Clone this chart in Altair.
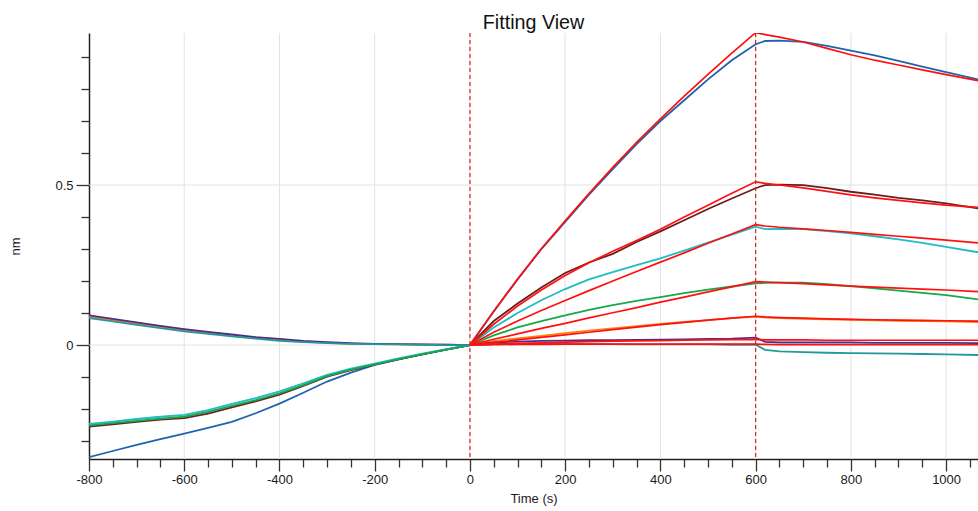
import altair as alt
import pandas as pd

# ---------------- data ----------------
SERIES = ["blue", "brown", "cyan", "green", "orange", "purple", "teal"]
COLORS = ["#1f63ad", "#6e1c1c", "#1fbcc4", "#17a84b", "#ff7f0e", "#4b2d8f", "#20999c"]

T_PRE = [-800, -750, -700, -650, -600, -550, -500, -450, -400, -350, -300, -250, -200, -150, -100, -50, 0]
T_ASSOC = [0, 50, 100, 150, 200, 250, 300, 350, 400, 450, 500, 550, 600]
T_DISS = [600, 620, 650, 700, 750, 800, 850, 900, 950, 1000, 1067]

PRE = {
    "blue":   [-0.350, -0.331, -0.312, -0.294, -0.277, -0.259, -0.240, -0.213, -0.183, -0.149, -0.114, -0.086, -0.062, -0.045, -0.029, -0.014, 0.0],
    "brown":  [-0.255, -0.248, -0.240, -0.233, -0.228, -0.214, -0.195, -0.176, -0.155, -0.128, -0.099, -0.078, -0.061, -0.045, -0.029, -0.014, 0.0],
    "cyan":   [-0.246, -0.239, -0.231, -0.224, -0.218, -0.203, -0.184, -0.166, -0.145, -0.120, -0.093, -0.074, -0.058, -0.042, -0.027, -0.013, 0.0],
    "green":  [-0.251, -0.244, -0.237, -0.230, -0.224, -0.209, -0.190, -0.172, -0.151, -0.125, -0.097, -0.077, -0.060, -0.044, -0.028, -0.014, 0.0],
    "orange": [0.089, 0.078, 0.067, 0.057, 0.047, 0.038, 0.030, 0.023, 0.016, 0.011, 0.007, 0.004, 0.003, 0.002, 0.001, 0.001, 0.0],
    "purple": [0.093, 0.082, 0.071, 0.060, 0.050, 0.041, 0.033, 0.025, 0.019, 0.013, 0.009, 0.006, 0.004, 0.003, 0.002, 0.001, 0.0],
    "teal":   [0.084, 0.074, 0.063, 0.053, 0.043, 0.035, 0.027, 0.020, 0.013, 0.009, 0.006, 0.004, 0.003, 0.002, 0.001, 0.0, 0.0],
}
ASSOC = {
    "blue":   [0, 0.105, 0.205, 0.300, 0.385, 0.470, 0.550, 0.628, 0.700, 0.765, 0.830, 0.890, 0.940],
    "brown":  [0, 0.075, 0.130, 0.180, 0.225, 0.258, 0.285, 0.322, 0.355, 0.390, 0.425, 0.458, 0.490],
    "cyan":   [0, 0.055, 0.100, 0.140, 0.175, 0.205, 0.228, 0.250, 0.271, 0.295, 0.320, 0.345, 0.370],
    "green":  [0, 0.030, 0.055, 0.075, 0.093, 0.110, 0.125, 0.138, 0.150, 0.162, 0.173, 0.183, 0.193],
    "orange": [0, 0.012, 0.021, 0.029, 0.037, 0.045, 0.052, 0.059, 0.066, 0.072, 0.078, 0.084, 0.089],
    "purple": [0, 0.008, 0.011, 0.013, 0.014, 0.015, 0.015, 0.016, 0.017, 0.018, 0.019, 0.020, 0.023],
    "teal":   [0, 0.003, 0.004, 0.004, 0.004, 0.003, 0.003, 0.002, 0.002, 0.002, 0.002, 0.001, 0.001],
}
DISS = {
    "blue":   [0.940, 0.950, 0.951, 0.947, 0.935, 0.920, 0.905, 0.888, 0.870, 0.853, 0.830],
    "brown":  [0.490, 0.500, 0.501, 0.500, 0.490, 0.479, 0.470, 0.460, 0.452, 0.443, 0.427],
    "cyan":   [0.370, 0.362, 0.363, 0.362, 0.356, 0.349, 0.340, 0.330, 0.319, 0.307, 0.290],
    "green":  [0.193, 0.194, 0.195, 0.195, 0.190, 0.184, 0.177, 0.170, 0.163, 0.156, 0.143],
    "orange": [0.089, 0.086, 0.084, 0.082, 0.080, 0.079, 0.077, 0.076, 0.075, 0.074, 0.072],
    "purple": [0.023, 0.010, 0.008, 0.008, 0.008, 0.008, 0.007, 0.007, 0.007, 0.007, 0.006],
    "teal":   [0.001, -0.015, -0.020, -0.022, -0.024, -0.025, -0.026, -0.027, -0.028, -0.029, -0.031],
}
FIT_ASSOC = {
    "blue":   [0, 0.106, 0.206, 0.301, 0.388, 0.473, 0.555, 0.633, 0.707, 0.778, 0.846, 0.912, 0.976],
    "brown":  [0, 0.065, 0.122, 0.172, 0.217, 0.257, 0.293, 0.327, 0.362, 0.400, 0.437, 0.474, 0.510],
    "cyan":   [0, 0.040, 0.075, 0.108, 0.139, 0.170, 0.200, 0.230, 0.259, 0.288, 0.318, 0.347, 0.376],
    "green":  [0, 0.018, 0.035, 0.052, 0.068, 0.085, 0.101, 0.117, 0.134, 0.150, 0.166, 0.182, 0.198],
    "orange": [0, 0.008, 0.016, 0.024, 0.032, 0.040, 0.048, 0.056, 0.064, 0.071, 0.078, 0.084, 0.090],
    "purple": [0, 0.003, 0.005, 0.007, 0.009, 0.011, 0.012, 0.013, 0.014, 0.015, 0.016, 0.017, 0.018],
    "teal":   [0, 0.001, 0.002, 0.002, 0.003, 0.003, 0.003, 0.003, 0.003, 0.003, 0.003, 0.003, 0.003],
}
FIT_DISS = {
    "blue":   [0.976, 0.970, 0.962, 0.947, 0.927, 0.907, 0.890, 0.875, 0.860, 0.845, 0.826],
    "brown":  [0.510, 0.505, 0.500, 0.491, 0.480, 0.469, 0.460, 0.452, 0.444, 0.437, 0.430],
    "cyan":   [0.376, 0.372, 0.368, 0.363, 0.358, 0.352, 0.346, 0.340, 0.334, 0.328, 0.319],
    "green":  [0.198, 0.197, 0.195, 0.192, 0.188, 0.184, 0.181, 0.178, 0.175, 0.172, 0.167],
    "orange": [0.090, 0.088, 0.086, 0.084, 0.082, 0.080, 0.079, 0.078, 0.077, 0.076, 0.075],
    "purple": [0.018, 0.016, 0.016, 0.016, 0.015, 0.015, 0.015, 0.015, 0.015, 0.015, 0.015],
    "teal":   [0.003, 0.002, 0.001, 0.001, 0.001, 0.001, 0.001, 0.001, 0.001, 0.001, 0.001],
}

PHASE_T = [0, 600]
GRID_X = [-600, -400, -200, 0, 200, 400, 600, 800, 1000]
GRID_Y = [0, 0.5]
X_TICKS = list(range(-800, 1051, 50))
Y_TICKS = [-0.3, -0.2, -0.1, 0, 0.1, 0.2, 0.3, 0.4, 0.5, 0.6, 0.7, 0.8, 0.9]
X_DOMAIN = [-800, 1067]
Y_DOMAIN = [-0.356, 0.975]

# ---------------- tables ----------------
rows = []
for s in SERIES:
    ts = T_PRE + T_ASSOC[1:] + T_DISS[1:]
    vs = PRE[s] + ASSOC[s][1:] + DISS[s][1:]
    for i, (t, v) in enumerate(zip(ts, vs)):
        rows.append({"series": s, "t": t, "v": v, "i": i})
data_df = pd.DataFrame(rows)

rows = []
for s in SERIES:
    ts = T_ASSOC + T_DISS[1:]
    vs = FIT_ASSOC[s] + FIT_DISS[s][1:]
    for i, (t, v) in enumerate(zip(ts, vs)):
        rows.append({"series": s, "t": t, "v": v, "i": i})
fit_df = pd.DataFrame(rows)

FONT = "Liberation Sans"
xscale = alt.Scale(domain=X_DOMAIN, nice=False, zero=False)
yscale = alt.Scale(domain=Y_DOMAIN, nice=False, zero=False)

x_axis = alt.Axis(
    values=X_TICKS,
    labelExpr="datum.value % 200 === 0 ? '' + datum.value : ''",
    tickSize={"condition": {"test": "datum.value % 200 === 0", "value": 12}, "value": 8},
    tickColor="#333333", tickWidth=1.3,
    domainColor="#222222", domainWidth=1.5,
    grid=False, labelFlush=False, labelOverlap=False,
    labelFont=FONT, labelFontSize=13, labelColor="#1a1a1a", labelPadding=2,
    title="Time (s)", titleFont=FONT, titleFontSize=13, titleFontWeight="normal",
    titleColor="#1a1a1a", titleY=39, titleBaseline="middle",
)
y_axis = alt.Axis(
    values=Y_TICKS,
    labelExpr="abs(datum.value) < 0.001 ? '0' : (abs(datum.value - 0.5) < 0.001 ? '0.5' : '')",
    tickSize={"condition": {"test": "abs(datum.value) < 0.001 || abs(datum.value - 0.5) < 0.001", "value": 13}, "value": 8},
    tickColor="#333333", tickWidth=1.3,
    domainColor="#222222", domainWidth=1.5,
    grid=False, labelFlush=False, labelOverlap=False,
    labelFont=FONT, labelFontSize=13, labelColor="#1a1a1a", labelPadding=3,
    title="nm", titleFont=FONT, titleFontSize=13, titleFontWeight="normal",
    titleColor="#1a1a1a", titleX=-74, titleY=213, titleBaseline="middle", titleAngle=-90,
)

X = alt.X("t:Q", scale=xscale, axis=x_axis)
Y = alt.Y("v:Q", scale=yscale, axis=y_axis)

gridx = alt.Chart(pd.DataFrame({"t": GRID_X})).mark_rule(color="#e2e2e2", strokeWidth=1).encode(x=X)
gridy = alt.Chart(pd.DataFrame({"v": GRID_Y})).mark_rule(color="#e2e2e2", strokeWidth=1).encode(y=Y)

lines = alt.Chart(data_df).mark_line(strokeWidth=1.8, clip=True).encode(
    x=X, y=Y,
    color=alt.Color("series:N", scale=alt.Scale(domain=SERIES, range=COLORS), legend=None),
    order="i:Q",
)
fits = alt.Chart(fit_df).mark_line(strokeWidth=1.7, color="#ff1010", clip=True).encode(
    x=X, y=Y,
    detail="series:N",
    order="i:Q",
)
phase = alt.Chart(pd.DataFrame({"t": PHASE_T})).mark_rule(
    color="#e02020", strokeDash=[4, 3], strokeWidth=1.2).encode(x=X)

chart = alt.layer(gridx, gridy, lines, fits, phase).properties(
    width=889, height=426,
    title=alt.TitleParams("Fitting View", font=FONT, fontSize=19.7, fontWeight="normal",
                          color="#111111", anchor="middle", offset=5, baseline="alphabetic", dy=21),
    autosize=alt.AutoSizeParams(type="none"),
    padding={"left": 89, "top": 33, "right": 0, "bottom": 52},
).configure_view(stroke=None)

chart.save("out.html", embed_options={"renderer": "svg", "actions": False})
